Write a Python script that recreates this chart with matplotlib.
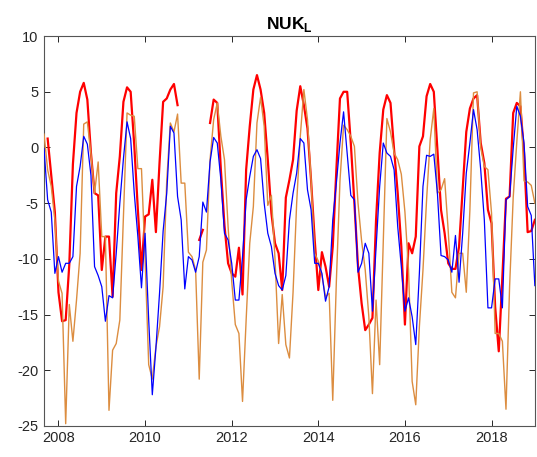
import numpy as np
import matplotlib
matplotlib.use("Agg")
import matplotlib.pyplot as plt

plt.rcParams["font.family"] = ["Liberation Sans", "DejaVu Sans"]
plt.rcParams["axes.unicode_minus"] = False
plt.rcParams["mathtext.fontset"] = "custom"
plt.rcParams["mathtext.rm"] = "Liberation Sans"
plt.rcParams["mathtext.bf"] = "Liberation Sans:bold"

nan = np.nan

# monthly series, first month Sep 2007
start_year = 2007 + 8 / 12

red_vals = [
    nan, 0.8, -2.5, -5.8, -13.0, -15.6, -15.5, -10.5, -1.5, 3.1,
    5.0, 5.8, 4.3, -0.5, -4.1, -4.3, -11.0, -8.0, -8.0, -13.4,
    -4.1, -0.8, 4.1, 5.4, 5.0, 0.2, -5.6, -11.0, -6.2, -6.0,
    -2.9, -7.6, -1.4, 4.1, 4.4, 5.2, 5.7, 3.8, nan, nan,
    nan, nan, nan, -8.3, -7.4, nan, 2.2, 4.3, 4.0, -2.0,
    -7.0, -10.4, -11.3, -11.6, -9.0, -13.2, -2.0, 1.9, 5.2, 6.5,
    5.2, 3.1, -1.1, -5.9, -8.6, -9.5, -12.8, -4.5, -2.9, -1.1,
    3.3, 5.5, 3.8, 1.7, -3.0, -8.3, -12.8, -9.4, -10.7, -12.5,
    -8.9, -2.0, 4.4, 5.0, 5.0, 0.4, -5.0, -10.7, -14.0, -16.4,
    -15.9, -15.3, -6.5, -0.5, 3.4, 4.7, 4.0, -0.2, -4.1, -8.9,
    -15.9, -8.6, -9.5, -8.0, 0.1, 1.0, 4.6, 5.7, 5.0, -0.2,
    -5.6, -7.7, -10.4, -10.9, -10.9, -8.9, -3.8, 1.4, 3.5, 4.4,
    4.7, 0.4, -1.4, -5.6, -6.8, -14.3, -18.3, -11.6, -4.6, -4.4,
    3.1, 4.0, 3.7, -0.5, -7.6, -7.5, -6.5,
]

blue_vals = [
    -0.1, -4.7, -5.8, -11.3, -9.8, -11.2, -10.4, -10.4, -9.8, -3.5,
    -1.7, 1.0, 0.3, -2.5, -10.7, -11.5, -12.5, -15.6, -13.3, -13.5,
    -9.5, -5.0, -1.0, 2.3, 0.8, -4.1, -8.0, -12.6, -7.7, -15.5,
    -22.2, -18.0, -13.1, -7.5, -4.1, 1.9, 1.3, -4.4, -6.5, -12.7,
    -9.8, -10.1, -11.2, -9.8, -4.9, -5.8, -1.3, 0.9, 0.4, -2.9,
    -7.7, -8.3, -10.4, -13.7, -13.7, -9.8, -4.7, -2.6, -0.8, -0.2,
    -1.0, -5.0, -7.7, -8.9, -11.3, -12.4, -12.8, -11.5, -6.5, -4.1,
    -2.3, 0.8, 0.4, -3.8, -5.6, -10.4, -10.4, -11.3, -13.8, -12.5,
    -6.5, -3.2, 0.4, 3.2, -0.5, -4.3, -4.7, -11.2, -10.4, -8.6,
    -9.5, -14.7, -9.0, -3.5, 0.4, -0.5, -0.8, -2.0, -7.1, -10.7,
    -14.7, -13.5, -15.2, -17.7, -11.3, -3.5, -0.7, -0.8, -0.6, -4.1,
    -9.7, -9.8, -10.1, -11.2, -7.9, -12.1, -7.7, -2.3, 0.4, 3.4,
    1.6, -2.0, -6.5, -14.4, -14.4, -11.8, -11.8, -14.4, -4.7, -4.4,
    -0.1, 3.7, 2.8, 0.4, -5.3, -6.1, -12.4,
]

orange_vals = [
    1.2, -2.0, -3.5, -6.5, -12.0, -13.1, -24.8, -14.1, -17.4, -13.7,
    -9.5, 2.1, 2.3, -0.6, -4.1, -1.3, -8.0, -8.0, -23.6, -18.2,
    -17.6, -15.5, -6.2, 3.1, 2.9, 2.8, -1.9, -1.9, -10.0, -19.5,
    -20.8, -17.9, -16.1, -12.5, -3.0, 2.2, 1.4, 3.0, -3.2, -3.2,
    -9.4, -9.8, -11.0, -20.8, -10.3, -9.2, -1.1, 2.5, 4.0, 1.0,
    -1.1, -7.1, -12.0, -15.9, -16.7, -22.8, -15.5, -8.6, -5.3, 2.2,
    4.5, 1.9, -5.2, -4.3, -10.0, -17.6, -13.2, -17.7, -18.9, -13.0,
    -5.0, 1.0, 5.2, 2.5, -3.0, -9.5, -10.2, -11.5, -13.4, -13.1,
    -22.7, -12.0, -3.0, 2.0, 1.6, 1.0, 0.1, -5.0, -8.4, -11.0,
    -15.2, -22.1, -13.7, -19.5, -8.6, 2.6, 1.4, -0.5, -1.1, -2.4,
    -5.8, -11.0, -21.0, -23.1, -16.1, -11.0, -4.7, 0.7, 3.5, -4.1,
    -3.8, -2.8, -7.5, -13.0, -13.5, -9.5, -9.5, -13.0, -5.6, 4.9,
    5.0, 0.0, -1.7, -2.0, -5.9, -16.7, -16.7, -17.4, -23.5, -12.5,
    -4.5, 0.5, 5.0, -3.0, -3.1, -3.4, -5.0,
]

t = start_year + np.arange(len(blue_vals)) / 12

fig = plt.figure(figsize=(5.37, 4.57), dpi=100)
ax = fig.add_axes([0.082, 0.068, 0.914, 0.853])

ax.plot(t, red_vals, color="#ff0000", lw=1.6, zorder=2)
ax.plot(t, orange_vals, color="#dc8d40", lw=1.0, zorder=3)
ax.plot(t, blue_vals, color="#0000ff", lw=0.9, zorder=4)

ax.set_xlim(start_year, 2019.0)
ax.set_ylim(-25, 10)
ax.set_xticks([2008, 2010, 2012, 2014, 2016, 2018])
ax.set_yticks(np.arange(-25, 11, 5))

ax.tick_params(direction="in", top=True, right=True, length=4,
               width=0.7, labelsize=10.5, colors="#262626", pad=4)
for s in ax.spines.values():
    s.set_color("#555555")
    s.set_linewidth(0.8)

ax.set_title(r"$\mathbf{NUK}_{\mathbf{L}}$", fontsize=12.5, pad=5, color="#000000")

fig.savefig("out.png", dpi=100)
